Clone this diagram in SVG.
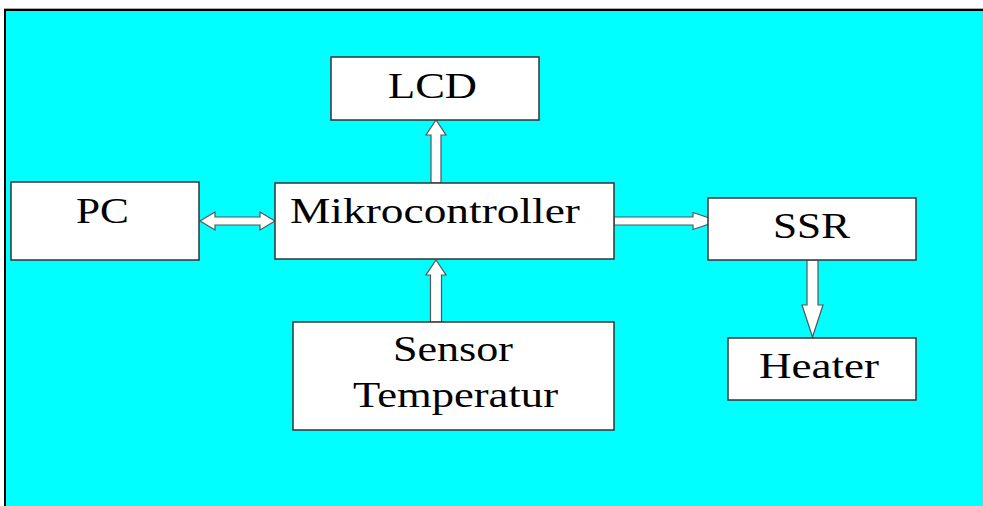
<svg xmlns="http://www.w3.org/2000/svg" width="983" height="506" viewBox="0 0 983 506">
<style>
.box{fill:#ffffff;stroke:#333333;stroke-width:1.5}
.arr{fill:#ffffff;stroke:#555555;stroke-width:1.2;stroke-linejoin:miter}
text{font-family:'Liberation Serif','DejaVu Serif',serif;font-size:36px;fill:#000000}
</style>
<rect x="0" y="0" width="983" height="506" fill="#ffffff"/>
<rect x="6" y="11" width="977" height="495" fill="#00ffff"/>
<line x1="4" y1="8.5" x2="983" y2="8.5" stroke="#aaaaaa" stroke-width="1"/>
<line x1="4" y1="10" x2="983" y2="10" stroke="#000000" stroke-width="2"/>
<line x1="5" y1="9" x2="5" y2="506" stroke="#000000" stroke-width="2"/>
<g id="connectors">
<polygon class="arr" points="200,221 215,212 215,217 260,217 260,212 275,221 260,230 260,225 215,225 215,230"/>
<polygon class="arr" points="614,217 693,217 693,212.5 718,221 693,229.5 693,225 614,225"/>
<polygon class="arr" points="807,260 818,260 818,305 823,305 812.5,337 802,305 807,305"/>
<polygon class="arr" points="431,183 431,135 426,135 436,120 446,135 441,135 441,183"/>
<polygon class="arr" points="430.5,322 430.5,275 426,275 436,260 446,275 441.5,275 441.5,322"/>
</g>
<g id="lcd">
<rect class="box" x="331" y="57" width="208" height="63"/>
<text font-family="Liberation Serif, serif" x="388" y="98" textLength="89" lengthAdjust="spacingAndGlyphs">LCD</text>
</g>
<g id="pc">
<rect class="box" x="11" y="182" width="188" height="78"/>
<text font-family="Liberation Serif, serif" x="76" y="223" textLength="53" lengthAdjust="spacingAndGlyphs">PC</text>
</g>
<g id="mikrocontroller">
<rect class="box" x="275" y="183" width="339" height="76"/>
<text font-family="Liberation Serif, serif" x="290" y="223" textLength="290" lengthAdjust="spacingAndGlyphs">Mikrocontroller</text>
</g>
<g id="ssr">
<rect class="box" x="708" y="198" width="208" height="62"/>
<text font-family="Liberation Serif, serif" x="773" y="238" textLength="77" lengthAdjust="spacingAndGlyphs">SSR</text>
</g>
<g id="heater">
<rect class="box" x="728" y="338" width="188" height="62"/>
<text font-family="Liberation Serif, serif" x="759" y="378" textLength="120" lengthAdjust="spacingAndGlyphs">Heater</text>
</g>
<g id="sensor">
<rect class="box" x="293" y="322" width="321" height="108"/>
<text font-family="Liberation Serif, serif" x="393" y="361" textLength="120" lengthAdjust="spacingAndGlyphs">Sensor</text>
<text font-family="Liberation Serif, serif" x="353" y="407" textLength="205" lengthAdjust="spacingAndGlyphs">Temperatur</text>
</g>
</svg>
